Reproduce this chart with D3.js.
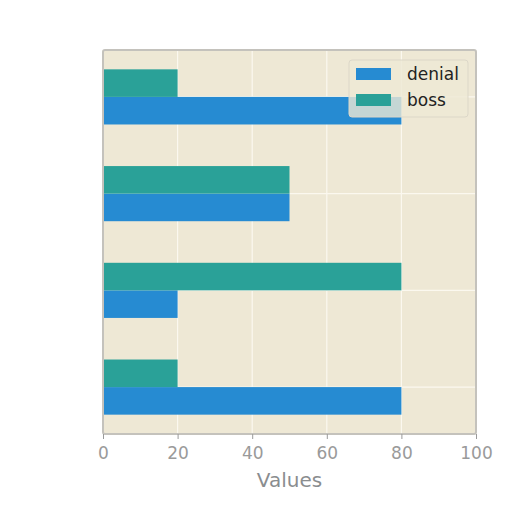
<!DOCTYPE html>
<html>
<head>
<meta charset="utf-8">
<script src="https://cdn.jsdelivr.net/npm/d3@7"></script>
<style>
  body { margin: 0; background: #ffffff; }
  svg { display: block; font-family: "DejaVu Sans", sans-serif; }
</style>
</head>
<body>
<div id="chart"></div>
<script>
// Chart data
var categories = ["A", "B", "C", "D"];
var seriesNames = ["denial", "boss"];
var denial = [80, 50, 20, 80];
var boss = [20, 50, 80, 20];
var xTicks = [0, 20, 40, 60, 80, 100];

var colors = { denial: "#268bd2", boss: "#2aa198" };

var svgWidth = 512;
var svgHeight = 512;

var margin = { top: 50, right: 36, bottom: 78, left: 103 };
var width = svgWidth - margin.left - margin.right;
var height = svgHeight - margin.top - margin.bottom;

var svg = d3.select("#chart").append("svg")
  .attr("width", svgWidth)
  .attr("height", svgHeight);

var chartGroup = svg.append("g")
  .attr("transform", `translate(${margin.left}, ${margin.top})`);

// Scales
var xScale = d3.scaleLinear().domain([0, 100]).range([0, width]);

var yScale = d3.scaleBand()
  .domain(categories)
  .range([0, height])
  .paddingInner(0.43)
  .paddingOuter(0.2);

var inner = d3.scaleBand()
  .domain(["boss", "denial"])
  .range([0, yScale.bandwidth()]);

// Background
chartGroup.append("rect")
  .attr("width", width)
  .attr("height", height)
  .attr("fill", "#eee8d5");

// Grid lines
chartGroup.selectAll(".vgrid")
  .data(xTicks)
  .enter()
  .append("line")
  .attr("x1", d => xScale(d))
  .attr("x2", d => xScale(d))
  .attr("y1", 0)
  .attr("y2", height)
  .attr("stroke", "#fbf8ef")
  .attr("stroke-width", 1.2);

chartGroup.selectAll(".hgrid")
  .data(categories)
  .enter()
  .append("line")
  .attr("x1", 0)
  .attr("x2", width)
  .attr("y1", d => yScale(d) + yScale.bandwidth() / 2)
  .attr("y2", d => yScale(d) + yScale.bandwidth() / 2)
  .attr("stroke", "#fbf8ef")
  .attr("stroke-width", 1.2);

// Bars
var rows = categories.map((c, i) => ({ cat: c, denial: denial[i], boss: boss[i] }));

seriesNames.forEach(function(name) {
  chartGroup.selectAll(".bar-" + name)
    .data(rows)
    .enter()
    .append("rect")
    .attr("class", "bar-" + name)
    .attr("x", xScale(0))
    .attr("y", d => yScale(d.cat) + inner(name))
    .attr("width", d => xScale(d[name]) - xScale(0))
    .attr("height", inner.bandwidth())
    .attr("fill", colors[name]);
});

// Frame
chartGroup.append("rect")
  .attr("width", width)
  .attr("height", height)
  .attr("fill", "none")
  .attr("stroke", "#c4c2bc")
  .attr("stroke-width", 2)
  .attr("rx", 2);

// X axis
var bottomAxis = d3.axisBottom(xScale)
  .tickValues(xTicks)
  .tickSize(5)
  .tickPadding(8);

var xAxis = chartGroup.append("g")
  .attr("transform", `translate(0, ${height})`)
  .call(bottomAxis);

xAxis.select(".domain").remove();
xAxis.selectAll("line").attr("stroke", "#9a9a9a");
xAxis.selectAll("text")
  .attr("fill", "#9a9a9a")
  .attr("font-size", "17px")
  .attr("font-family", "DejaVu Sans, sans-serif");

chartGroup.append("text")
  .attr("x", width / 2)
  .attr("y", height + 53)
  .attr("text-anchor", "middle")
  .attr("fill", "#8a8d8f")
  .attr("font-size", "20px")
  .text("Values");

// Legend
var legend = chartGroup.append("g")
  .attr("transform", `translate(${width - 127}, 10)`);

legend.append("rect")
  .attr("width", 119)
  .attr("height", 57)
  .attr("rx", 3)
  .attr("fill", "#eee8d5")
  .attr("fill-opacity", 0.8)
  .attr("stroke", "#dcd7c8");

seriesNames.forEach(function(name, i) {
  var row = legend.append("g")
    .attr("transform", `translate(7, ${8 + i * 26})`);
  row.append("rect")
    .attr("width", 35)
    .attr("height", 12)
    .attr("fill", colors[name]);
  row.append("text")
    .attr("x", 51)
    .attr("y", 12)
    .attr("fill", "#222")
    .attr("font-size", "17px")
    .text(name);
});
</script>
</body>
</html>
